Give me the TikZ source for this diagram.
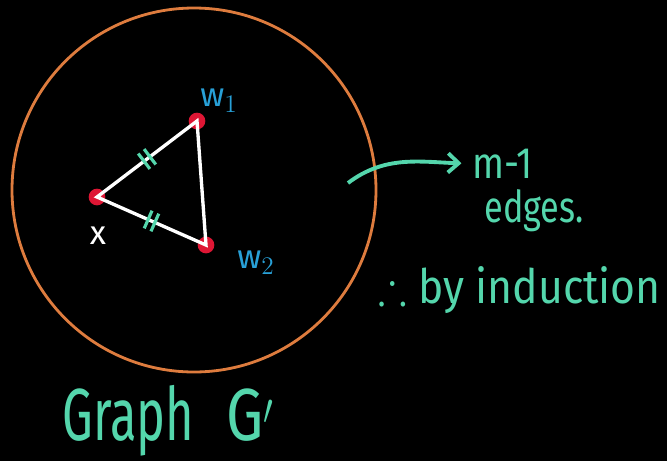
\documentclass[tikz,border=0pt]{standalone}
\usepackage{amssymb}
\usepackage{graphicx}
\usepackage{fontspec}
\setmainfont{Fira Sans}
\usepackage{tikz}
\usetikzlibrary{arrows.meta,positioning,calc}

\definecolor{chalkteal}{RGB}{84,214,172}
\definecolor{chalkorange}{RGB}{222,124,62}
\definecolor{chalkred}{RGB}{222,22,52}
\definecolor{chalkblue}{RGB}{40,160,215}

\tikzset{
  vtx/.style={circle, fill=chalkred, minimum size=9.5pt, inner sep=0pt},
  vlabel/.style={font=\fontsize{19}{22}\selectfont, inner sep=0pt},
  note/.style={text=chalkteal, font=\fontsize{25}{30}\selectfont, inner sep=0pt, anchor=base west},
  tickmark/.style={sloped, inner sep=0pt, text=chalkteal},
}

\newcommand{\dbltick}{\rule{1.8pt}{11pt}\hspace{2.4pt}\rule{1.8pt}{11pt}}
\newcommand{\narrow}[2][0.85]{\scalebox{#1}[1]{#2}}

\begin{document}
\begin{tikzpicture}[x=0.02cm, y=-0.02cm]
  % black board
  \fill[black] (0,0) rectangle (667,461);
  \useasboundingbox (0,0) rectangle (667,461);

  % the graph G'
  \draw[chalkorange, line width=1.6pt] (194,190) circle (182);

  % edges of the triangle
  \node[vtx] (x) at (97,197) {};
  \node[vtx] (w1) at (197,121) {};
  \node[vtx] (w2) at (206,245) {};
  \draw[white, line width=1.9pt] (x.center) -- (w1.center) -- (w2.center) -- cycle;
  \path (x) -- (w1) node[midway, tickmark] {\dbltick};
  \path (x) -- (w2) node[midway, tickmark] {\dbltick};

  % vertex names
  \node[vlabel, text=white] (xlab) at (98,236) {x};
  \node[vlabel, text=chalkblue] (w1lab) at (219,101) {w$_1$};
  \node[vlabel, text=chalkblue] (w2lab) at (256,263) {w$_2$};

  % note on the right
  \node[note] (mline) at (472,178) {\narrow{m-1}};
  \node[note] (edges) at (484,222) {\narrow[0.78]{edges.}};
  \node[note, font=\fontsize{27}{32}\selectfont] (induct) at (378,303) {\narrow[0.9]{$\therefore$ by induction}};
  \coordinate (arrowstart) at (348,183);
  \draw[chalkteal, line width=2.2pt, -{Straight Barb[length=6pt, width=11pt]}]
    (arrowstart) .. controls (385,155) and (420,162) .. ([xshift=-6pt]mline.west);

  % caption
  \node[note, font=\fontsize{42}{48}\selectfont] (title) at (62,440) {\narrow[0.66]{Graph}};
  \node[note, font=\fontsize{42}{48}\selectfont] (gprime) at (226,440) {\narrow[0.8]{G$'$}};
\end{tikzpicture}
\end{document}
